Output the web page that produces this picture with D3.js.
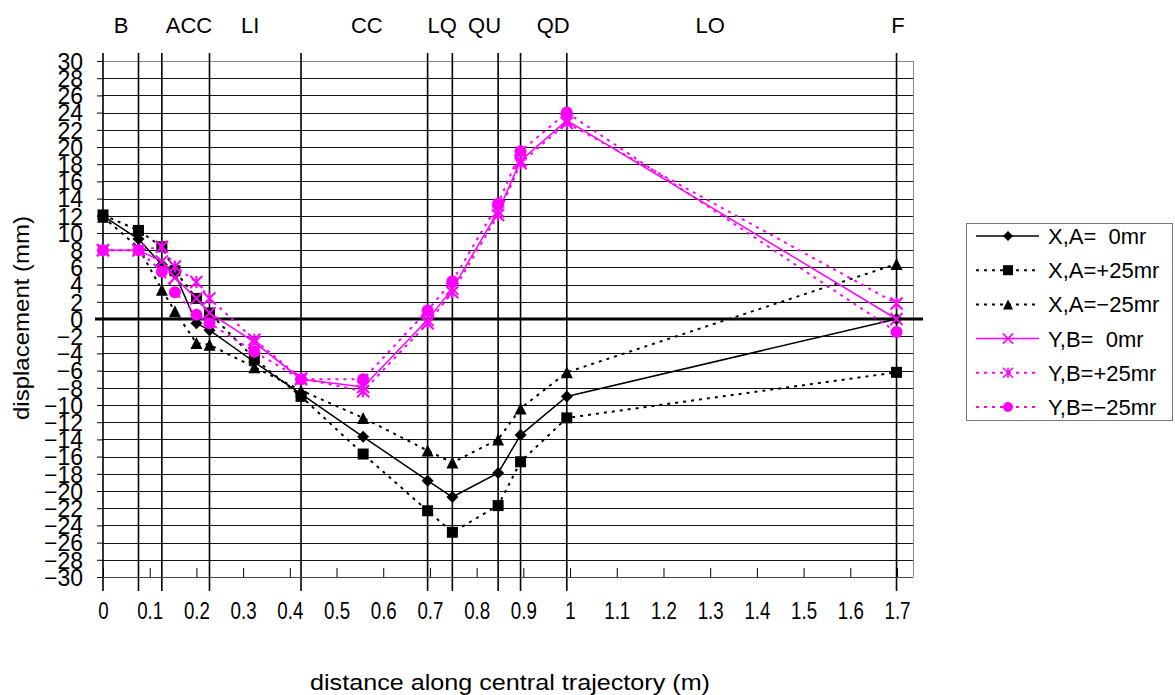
<!DOCTYPE html>
<html>
<head>
<meta charset="utf-8">
<script src="https://cdn.jsdelivr.net/npm/d3@7"></script>
<style>
  body { margin: 0; background: #fff; }
  svg { display: block; font-family: "Liberation Sans", Arial, sans-serif; }
  text { white-space: pre; }
</style>
</head>
<body>
<svg width="1175" height="695"></svg>
<script>
// positions along the trajectory (m) where displacements were read
var positions = [0, 0.076, 0.126, 0.154, 0.2, 0.228, 0.324, 0.424, 0.557, 0.695, 0.748, 0.846, 0.894, 0.993, 1.699];

var xA0   = [12.0, 9.3, 6.3, 5.3, -0.5, -1.3, -5.0, -8.7, -13.7, -18.8, -20.7, -17.9, -13.5, -9.0, 0];
var xAp25 = [12.1, 10.3, 8.4, 5.6, 2.4, 0.7, -4.6, -9.0, -15.7, -22.3, -24.8, -21.7, -16.6, -11.5, -6.2];
var xAm25 = [11.9, 8.3, 3.4, 0.9, -2.8, -3.0, -5.6, -8.3, -11.5, -15.3, -16.7, -14.0, -10.4, -6.2, 6.4];
var yB0   = [8.0, 8.0, 6.7, 4.8, 2.4, 0.7, -2.7, -7.0, -7.9, -0.1, 3.5, 12.5, 18.4, 23.1, 0];
var yBp25 = [8.0, 8.0, 8.4, 6.1, 4.3, 2.4, -2.4, -6.9, -8.4, -0.5, 3.1, 12.1, 18.1, 22.8, 1.8];
var yBm25 = [8.0, 8.0, 5.5, 3.1, 0.5, -0.5, -3.8, -7.0, -7.0, 1.0, 4.4, 13.4, 19.5, 24.0, -1.5];

var seriesNames = ["X,A=  0mr", "X,A=+25mr", "X,A=\u221225mr", "Y,B=  0mr", "Y,B=+25mr", "Y,B=\u221225mr"];

// element boundaries and element names along the beamline
var elementEdges = [0, 0.076, 0.126, 0.228, 0.424, 0.695, 0.748, 0.846, 0.894, 0.993, 1.699];
var elementNames = ["B", "ACC", "LI", "CC", "LQ", "QU", "QD", "LO", "F"];
var elementCenters = [0.039, 0.184, 0.315, 0.565, 0.726, 0.817, 0.964, 1.3, 1.702];

var xTicks = d3.range(0, 18).map(function(i) { return i / 10; });
var yTicks = d3.range(-30, 32, 2);

var margin = { top: 61, left: 103 };
var width = 810;
var height = 516;

var svg = d3.select("svg");
var g = svg.append("g")
  .attr("transform", "translate(" + margin.left + "," + margin.top + ")");

var scaleX = d3.scaleLinear().domain([0, 1.7]).range([0, 794]);
var scaleY = d3.scaleLinear().domain([-30, 30]).range([height, 0]);

// horizontal grid
g.selectAll(".hgrid")
  .data(yTicks)
  .enter().append("line")
  .attr("class", "hgrid")
  .attr("x1", 0)
  .attr("x2", width)
  .attr("y1", function(d) { return Math.round(scaleY(d)) + 0.5; })
  .attr("y2", function(d) { return Math.round(scaleY(d)) + 0.5; })
  .attr("stroke", function(d) { return (d === 30 || d === -30) ? "#888" : "#111"; })
  .attr("stroke-width", 1);

// plot frame (right side)
g.append("line")
  .attr("x1", width + 0.5).attr("x2", width + 0.5)
  .attr("y1", 0).attr("y2", height)
  .attr("stroke", "#888");

// element boundaries
g.selectAll(".edge")
  .data(elementEdges)
  .enter().append("line")
  .attr("class", "edge")
  .attr("x1", function(d) { return scaleX(d); })
  .attr("x2", function(d) { return scaleX(d); })
  .attr("y1", -8)
  .attr("y2", height + 14)
  .attr("stroke", "#000")
  .attr("stroke-width", 1.6);

// element names
g.selectAll(".elem")
  .data(elementNames)
  .enter().append("text")
  .attr("class", "elem")
  .attr("x", function(d, i) { return scaleX(elementCenters[i]); })
  .attr("y", -28)
  .attr("text-anchor", "middle")
  .attr("font-size", 22)
  .text(function(d) { return d; });

// y axis
var yAxis = d3.axisLeft(scaleY)
  .tickValues(yTicks)
  .tickSize(6)
  .tickPadding(14)
  .tickFormat(function(d) { return d < 0 ? "\u2212" + Math.abs(d) : d; });

var yAxisG = g.append("g").attr("class", "axis y-axis").call(yAxis);
yAxisG.select(".domain").remove();
yAxisG.selectAll("line").attr("stroke", "#000");
yAxisG.selectAll("text")
  .attr("font-size", 23)
  .attr("font-family", "Liberation Sans, Arial, sans-serif")
  .attr("fill", "#000")
  .attr("dy", "0.36em");

// x axis, ticks point into the plot
var xAxis = d3.axisBottom(scaleX)
  .tickValues(xTicks)
  .tickSize(-9)
  .tickPadding(25)
  .tickFormat(function(d) { return d3.format("")(Math.round(d * 10) / 10); });

var xAxisG = g.append("g")
  .attr("class", "axis x-axis")
  .attr("transform", "translate(0," + height + ")")
  .call(xAxis);
xAxisG.select(".domain").attr("stroke", "#444").attr("d", "M0,0.5H" + width);
xAxisG.selectAll("line").attr("stroke", "#000");
xAxisG.selectAll("text")
  .attr("font-size", 24)
  .attr("font-family", "Liberation Sans, Arial, sans-serif")
  .attr("fill", "#000")
  .attr("transform", "scale(0.78,1)");

// zero line
g.append("line")
  .attr("x1", -8).attr("x2", width + 10)
  .attr("y1", scaleY(0)).attr("y2", scaleY(0))
  .attr("stroke", "#000")
  .attr("stroke-width", 3);

// marker shapes
function markerPath(type, s) {
  var h = s / 2;
  if (type === "diamond") return "M0," + (-h) + "L" + h + ",0L0," + h + "L" + (-h) + ",0Z";
  if (type === "square") return "M" + (-h) + "," + (-h) + "H" + h + "V" + h + "H" + (-h) + "Z";
  if (type === "triangle") return "M0," + (-h) + "L" + h + "," + h + "H" + (-h) + "Z";
  if (type === "x") return "M" + (-h) + "," + (-h) + "L" + h + "," + h + "M" + h + "," + (-h) + "L" + (-h) + "," + h;
  if (type === "star") return "M" + (-h) + "," + (-h) + "L" + h + "," + h + "M" + h + "," + (-h) + "L" + (-h) + "," + h + "M0," + (-h) + "V" + h;
  return "M" + h + ",0A" + h + "," + h + " 0 1,1 " + (-h) + ",0A" + h + "," + h + " 0 1,1 " + h + ",0Z";
}

var series = [
  { name: seriesNames[0], values: xA0,   color: "#000", dash: null,  marker: "diamond",  size: 12 },
  { name: seriesNames[1], values: xAp25, color: "#000", dash: "3,5", marker: "square",   size: 11 },
  { name: seriesNames[2], values: xAm25, color: "#000", dash: "3,5", marker: "triangle", size: 12 },
  { name: seriesNames[3], values: yB0,   color: "#ff00ff", dash: null,  marker: "x",      size: 12 },
  { name: seriesNames[4], values: yBp25, color: "#ff00ff", dash: "3,5", marker: "star",   size: 12 },
  { name: seriesNames[5], values: yBm25, color: "#ff00ff", dash: "3,5", marker: "circle", size: 12 }
];

var line = d3.line()
  .x(function(d) { return scaleX(d[0]); })
  .y(function(d) { return scaleY(d[1]); });

series.forEach(function(s) {
  var pts = positions.map(function(p, i) { return [p, s.values[i]]; });

  g.append("path")
    .datum(pts)
    .attr("fill", "none")
    .attr("stroke", s.color)
    .attr("stroke-width", s.dash ? 2 : 1.5)
    .attr("stroke-dasharray", s.dash)
    .attr("d", line);

  var stroked = (s.marker === "x" || s.marker === "star");
  g.selectAll(null)
    .data(pts)
    .enter().append("path")
    .attr("transform", function(d) { return "translate(" + scaleX(d[0]) + "," + scaleY(d[1]) + ")"; })
    .attr("d", markerPath(s.marker, s.size))
    .attr("fill", stroked ? "none" : s.color)
    .attr("stroke", s.color)
    .attr("stroke-width", stroked ? 2 : 0);
});

// axis titles
svg.append("text")
  .attr("transform", "translate(29,318) rotate(-90)")
  .attr("text-anchor", "middle")
  .attr("font-size", 22)
  .attr("textLength", 204)
  .attr("lengthAdjust", "spacingAndGlyphs")
  .text("displacement (mm)");

svg.append("text")
  .attr("x", 510)
  .attr("y", 690)
  .attr("text-anchor", "middle")
  .attr("font-size", 22)
  .attr("textLength", 400)
  .attr("lengthAdjust", "spacingAndGlyphs")
  .text("distance along central trajectory (m)");

// legend
var legend = svg.append("g").attr("transform", "translate(966,223)");
legend.append("rect")
  .attr("x", 0.5).attr("y", 0.5)
  .attr("width", 206).attr("height", 197)
  .attr("fill", "#fff")
  .attr("stroke", "#777");

var item = legend.selectAll(".item")
  .data(series)
  .enter().append("g")
  .attr("class", "item")
  .attr("transform", function(d, i) { return "translate(0," + (13 + i * 34.2) + ")"; });

item.append("line")
  .attr("x1", 10).attr("x2", 73)
  .attr("stroke", function(d) { return d.color; })
  .attr("stroke-width", function(d) { return d.dash ? 2 : 1.5; })
  .attr("stroke-dasharray", function(d) { return d.dash; });

item.append("path")
  .attr("transform", "translate(42,0)")
  .attr("d", function(d) { return markerPath(d.marker, 10); })
  .attr("fill", function(d) { return (d.marker === "x" || d.marker === "star") ? "none" : d.color; })
  .attr("stroke", function(d) { return d.color; })
  .attr("stroke-width", function(d) { return (d.marker === "x" || d.marker === "star") ? 1.6 : 0; });

item.append("text")
  .attr("x", 82)
  .attr("y", 8)
  .attr("font-size", 22)
  .text(function(d) { return d.name; });
</script>
</body>
</html>
